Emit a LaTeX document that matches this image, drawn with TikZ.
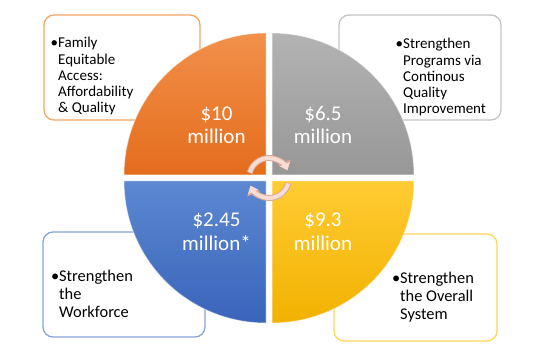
\documentclass[tikz,border=0pt]{standalone}
\usepackage{fontspec}
\setmainfont{Carlito}
\usetikzlibrary{arrows.meta}

\definecolor{orangetop}{HTML}{F2904A}
\definecolor{orangebot}{HTML}{E46D1C}
\definecolor{graytop}{HTML}{B3B3B3}
\definecolor{graybot}{HTML}{979797}
\definecolor{bluetop}{HTML}{5C88D2}
\definecolor{bluebot}{HTML}{3964BA}
\definecolor{yellowtop}{HTML}{FFCC33}
\definecolor{yellowbot}{HTML}{F2B100}
\definecolor{orangeline}{HTML}{F5A664}
\definecolor{grayline}{HTML}{C4C4C4}
\definecolor{blueline}{HTML}{86A4DA}
\definecolor{yellowline}{HTML}{FFD75A}
\definecolor{cyclepink}{HTML}{F6DCD2}
\definecolor{cycleedge}{HTML}{D9A897}

\tikzset{
  infobox/.style={draw=#1, line width=1.3pt, rounded corners=10pt, fill=white, inner sep=0pt},
  quadrant/.style 2 args={top color=#1, bottom color=#2, draw=white, draw opacity=0.45, line width=1pt},
  boxtext/.style 2 args={anchor=base west, align=left, inner sep=0pt, font=\fontsize{#1}{#2}\selectfont},
  amount/.style={anchor=base, align=center, inner sep=0pt, text=white, font=\fontsize{21}{23.5}\selectfont},
  cycleback/.style={cycleedge, line width=6pt, -{Triangle[width=13.5pt,length=9pt]}},
  cyclearrow/.style={cyclepink, line width=4pt, -{Triangle[width=10.5pt,length=6.5pt]}}
}

\begin{document}
\begin{tikzpicture}[x=1pt, y=1pt]
  \useasboundingbox (0,0) rectangle (543,361);

  \node[infobox=orangeline, minimum width=156pt, minimum height=105pt] (accessBox) at (122,293.5) {};
  \node[infobox=grayline, minimum width=162pt, minimum height=105pt] (qualityBox) at (420,293.5) {};
  \node[infobox=blueline, minimum width=162pt, minimum height=105pt] (workforceBox) at (124,76.5) {};
  \node[infobox=yellowline, minimum width=163pt, minimum height=107pt] (systemBox) at (415.5,73.5) {};

  \node[boxtext={15}{16.2}] (accessText) at (58,248.2) {\llap{\textbullet}Family\\Equitable\\Access:\\Affordability\\\& Quality};
  \node[boxtext={15}{16.2}] (qualityText) at (403,247.2) {\llap{\textbullet}Strengthen\\Programs via\\Continous\\Quality\\Improvement};
  \node[boxtext={16.4}{17.6}] (workforceText) at (59,43.8) {\llap{\textbullet}Strengthen\\the\\Workforce};
  \node[boxtext={16.4}{17.6}] (systemText) at (400,41.8) {\llap{\textbullet}Strengthen\\the Overall\\System};

  \path[quadrant={orangetop}{orangebot}] (266,186) -- (124,186) arc[start angle=180, end angle=90, radius=142] -- cycle;
  \path[quadrant={graytop}{graybot}] (272,186) -- (272,328) arc[start angle=90, end angle=0, radius=142] -- cycle;
  \path[quadrant={bluetop}{bluebot}] (266,180) -- (124,180) arc[start angle=180, end angle=270, radius=142] -- cycle;
  \path[quadrant={yellowtop}{yellowbot}] (272,180) -- (414,180) arc[start angle=0, end angle=-90, radius=142] -- cycle;

  \node[amount] (accessAmount) at (216.5,217) {\$10\\million};
  \node[amount] (qualityAmount) at (323,217) {\$6.5\\million};
  \node[amount] (workforceAmount) at (216.5,110.5) {\$2.45\\million*};
  \node[amount] (systemAmount) at (323,110.5) {\$9.3\\million};

  \coordinate (hub) at (269,183);
  \draw[cycleback] ([shift={(165:20)}]hub) arc[start angle=165, end angle=22, radius=20];
  \draw[cycleback] ([shift={(-15:20)}]hub) arc[start angle=-15, end angle=-158, radius=20];
  \draw[cyclearrow] ([shift={(164:20)}]hub) arc[start angle=164, end angle=23, radius=20];
  \draw[cyclearrow] ([shift={(-16:20)}]hub) arc[start angle=-16, end angle=-157, radius=20];
\end{tikzpicture}
\end{document}
